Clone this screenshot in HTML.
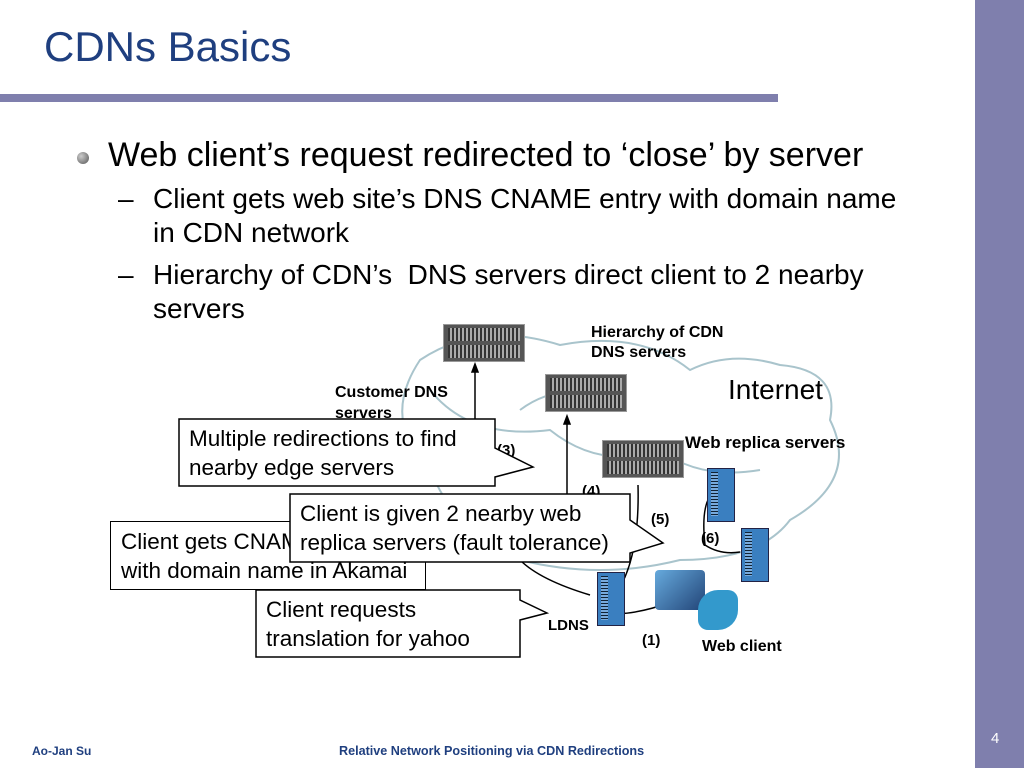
<!DOCTYPE html>
<html><head><style>
body{margin:0;width:1024px;height:768px;background:#fff;position:relative;overflow:hidden;font-family:"Liberation Sans",sans-serif}
.a{position:absolute;white-space:nowrap}
.srv{position:absolute;width:80px;height:36px;background:#555;border:1px solid #999}
.srv:before,.srv:after{content:"";position:absolute;left:4px;right:4px;height:13px;background:repeating-linear-gradient(90deg,#333 0 2px,#aaa 2px 4px)}
.srv:before{top:3px}.srv:after{bottom:3px}
.tw{position:absolute;width:26px;height:52px;background:#3a7fc0;border:1px solid #224;}
.tw:before{content:"";position:absolute;left:3px;top:3px;width:7px;height:44px;background:repeating-linear-gradient(#123 0 1px,#7ad 1px 3px)}
.lb{font-weight:bold;color:#000;position:absolute;white-space:nowrap}
.cl{position:absolute;background:#fff;border:1.5px solid #000;font-size:22.5px;line-height:29px;padding:5px 10px;box-sizing:border-box;white-space:nowrap;overflow:hidden}
</style></head><body>
<div class="a" style="left:975px;top:0;width:49px;height:768px;background:#7f7fad"></div>
<div class="a" style="left:0;top:94px;width:778px;height:8px;background:#7f7fad"></div>
<div class="a" style="left:44px;top:23px;font-size:42px;color:#1f3f7f">CDNs Basics</div>
<div class="a" style="left:77px;top:152px;width:12px;height:12px;border-radius:50%;background:radial-gradient(circle at 35% 35%,#ccc,#555)"></div>
<div class="a" style="left:108px;top:136px;font-size:34px">Web client’s request redirected to ‘close’ by server</div>
<div class="a" style="left:118px;top:182px;font-size:28px;line-height:34px">–</div>
<div class="a" style="left:153px;top:182px;font-size:28px;line-height:34px">Client gets web site’s DNS CNAME entry with domain name<br>in CDN network</div>
<div class="a" style="left:118px;top:258px;font-size:28px;line-height:34px">–</div>
<div class="a" style="left:153px;top:258px;font-size:28px;line-height:34px">Hierarchy of CDN’s&nbsp; DNS servers direct client to 2 nearby<br>servers</div>
<svg class="a" style="left:0;top:0" width="1024" height="768">
<g fill="none" stroke="#a9c4cc" stroke-width="2">
<path d="M420 360 Q380 420 430 470 Q460 540 520 560 Q600 580 680 560 Q760 560 790 520 Q860 480 830 420 Q840 370 780 365 Q730 350 690 370 Q640 330 560 345 Q480 320 420 360Z"/>
<path d="M430 390 Q470 440 550 430 Q600 470 660 450 Q700 480 760 470"/>
<path d="M520 410 Q560 380 610 400"/>
</g>
<g stroke="#000" stroke-width="1.5" fill="none">
<line x1="475" y1="420" x2="475" y2="368"/><polygon points="475,364 472,372 478,372" fill="#000"/>
<line x1="567" y1="495" x2="567" y2="420"/><polygon points="567,416 564,424 570,424" fill="#000"/>
<path d="M615 595 Q640 560 638 485"/><path d="M705 545 Q700 500 716 490"/>
<path d="M705 545 Q720 555 740 552"/>
<path d="M600 610 Q620 620 672 602"/>
<path d="M590 595 Q540 580 520 560"/>
</g>
</svg>
<div class="srv" style="left:443px;top:324px"></div>
<div class="srv" style="left:545px;top:374px"></div>
<div class="srv" style="left:602px;top:440px"></div>
<div class="tw" style="left:707px;top:468px"></div>
<div class="tw" style="left:741px;top:528px"></div>
<div class="tw" style="left:597px;top:572px"></div>
<div class="a" style="left:655px;top:570px;width:50px;height:40px;background:linear-gradient(135deg,#6ad,#247);border-radius:4px"></div>
<div class="a" style="left:698px;top:590px;width:40px;height:40px;background:#39c;border-radius:50% 10px"></div>
<div class="lb" style="left:591px;top:323px;font-size:16px;line-height:20px">Hierarchy of CDN<br>DNS servers</div>
<div class="lb" style="left:335px;top:382px;font-size:16px;line-height:21px">Customer DNS<br>servers</div>
<div class="a" style="left:728px;top:374px;font-size:28px">Internet</div>
<div class="lb" style="left:685px;top:433px;font-size:17px">Web replica servers</div>
<div class="lb" style="left:497px;top:442px;font-size:15px">(3)</div>
<div class="lb" style="left:582px;top:483px;font-size:15px">(4)</div>
<div class="lb" style="left:651px;top:511px;font-size:15px">(5)</div>
<div class="lb" style="left:701px;top:530px;font-size:15px">(6)</div>
<div class="lb" style="left:548px;top:617px;font-size:15px">LDNS</div>
<div class="lb" style="left:642px;top:632px;font-size:15px">(1)</div>
<div class="lb" style="left:702px;top:638px;font-size:16px">Web client</div>
<div class="cl" style="left:110px;top:521px;width:316px;height:69px">Client gets CNAME entry<br>with domain name in Akamai</div>
<svg class="a" style="left:0;top:0" width="1024" height="768">
<g fill="#fff" stroke="#000" stroke-width="1.5">
<polygon points="179,419 495,419 495,448 533,467 495,477 495,486 179,486"/>
<polygon points="290,494 630,494 630,520 663,543 630,553 630,562 290,562"/>
<polygon points="256,590 520,590 520,600 547,613 520,620 520,657 256,657"/>
</g></svg>
<div class="cl" style="left:179px;top:419px;width:316px;height:67px;border:none;background:none">Multiple redirections to find<br>nearby edge servers</div>
<div class="cl" style="left:290px;top:494px;width:340px;height:68px;border:none;background:none">Client is given 2 nearby web<br>replica servers (fault tolerance)</div>
<div class="cl" style="left:256px;top:590px;width:264px;height:67px;border:none;background:none">Client requests<br>translation for yahoo</div>
<div class="a" style="left:32px;top:744px;font-size:12px;font-weight:bold;color:#1f3f7f">Ao-Jan Su</div>
<div class="a" style="left:339px;top:744px;font-size:12.6px;font-weight:bold;color:#1f3f7f">Relative Network Positioning via CDN Redirections</div>
<div class="a" style="left:991px;top:730px;font-size:15px;color:#fff">4</div>
</body></html>
